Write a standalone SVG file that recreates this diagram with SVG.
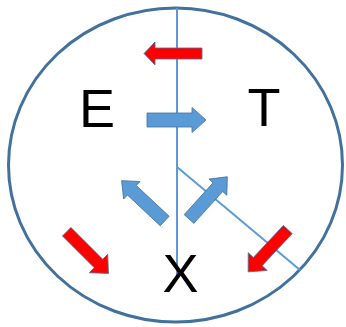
<svg xmlns="http://www.w3.org/2000/svg" width="346" height="327" viewBox="0 0 346 327">
<style>
.lbl{font-family:"Liberation Sans",Arial,sans-serif;font-size:54px;fill:#000}
.ln{stroke:#5B9BD5;stroke-width:2;fill:none}
.ba{fill:#5B9BD5;stroke:#41719C;stroke-width:0.8}
.ra{fill:#FF0000;stroke:#41719C;stroke-width:0.8}
</style>
<rect width="346" height="327" fill="#fff"/>
<g id="circle">
<ellipse cx="175.5" cy="165" rx="167" ry="157" fill="none" stroke="#41719C" stroke-width="3"/>
</g>
<g id="connectors">
<line class="ln" x1="177" y1="8" x2="177" y2="276"/>
<line class="ln" x1="177" y1="167" x2="300" y2="270"/>
</g>
<g id="arrows">
<path class="ra" d="M0,-5.5 L47,-5.5 L47,-11.5 L58,0 L47,11.5 L47,5.5 L0,5.5 Z" transform="translate(202,53.5) rotate(180)"/>
<path class="ba" d="M0,-7 L45,-7 L45,-12.5 L59,0 L45,12.5 L45,7 L0,7 Z" transform="translate(147,120)"/>
<path class="ba" d="M0,-6.5 L45,-6.5 L45,-12 L59,0 L45,12 L45,6.5 L0,6.5 Z" transform="translate(164.7,221) rotate(-136.9)"/>
<path class="ba" d="M0,-6.5 L43,-6.5 L43,-12 L57,0 L43,12 L43,6.5 L0,6.5 Z" transform="translate(189,219) rotate(-47.8)"/>
<path class="ra" d="M0,-6 L45,-6 L45,-13 L59,0 L45,13 L45,6 L0,6 Z" transform="translate(66.7,231.7) rotate(45)"/>
<path class="ra" d="M0,-6 L44,-6 L44,-13 L58,0 L44,13 L44,6 L0,6 Z" transform="translate(287.8,229.5) rotate(133.1)"/>
</g>
<g id="node-E"><text class="lbl" x="79" y="127">E</text></g>
<g id="node-T"><text class="lbl" x="264" y="126" text-anchor="middle">T</text></g>
<g id="node-X"><text class="lbl" x="180.5" y="291.5" text-anchor="middle">X</text></g>
</svg>
